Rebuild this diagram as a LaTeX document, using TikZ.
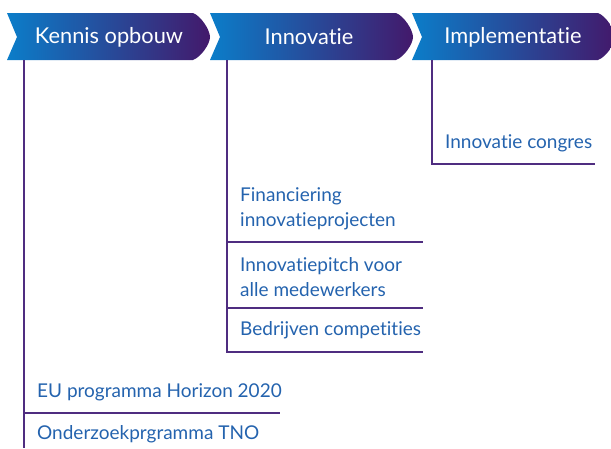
\documentclass[tikz,border=0pt]{standalone}
\usepackage{fontspec}
\setmainfont{Lato}[Ligatures={NoCommon}]
\usetikzlibrary{positioning}
\definecolor{phaseblue}{HTML}{0B7DC9}
\definecolor{phasepurple}{HTML}{43196B}
\definecolor{itemblue}{HTML}{2463AE}
\definecolor{stemline}{HTML}{4F2D80}

\tikzset{
  phase/.style={shade, left color=phaseblue, right color=phasepurple},
  phasetext/.style={text=white, inner sep=0pt, font=\fontsize{21.8}{26}\selectfont},
  item/.style={anchor=west, inner sep=0pt, align=left, text=itemblue,
    font=\fontsize{19}{25}\selectfont},
  stem/.style={draw=stemline, line width=1.3pt},
}

\begin{document}
\begin{tikzpicture}[x=1pt,y=-1pt]
  \useasboundingbox (0,0) rectangle (611,448);

  % the three phases
  \foreach \x in {7,210,412}{
    \path[phase] (\x,13) -- (\x+186,13)
      .. controls (\x+194,16) and (\x+203,30) .. (\x+203,37)
      .. controls (\x+203,44) and (\x+194,57) .. (\x+186,60)
      -- (\x,60) -- (\x+10,37) -- cycle;
  }
  \node [phasetext] (kennis) at (109,37) {Kennis opbouw};
  \node [phasetext] (innovatie) at (309,37) {Innovatie};
  \node [phasetext] (implementatie) at (513,37) {Implementatie};

  % items
  \node [item] (congres) at (445,143) {Innovatie congres};
  \node [item] (financiering) at (240,209) {Financiering\\innovatieprojecten};
  \node [item] (pitch) at (240,277) {Innovatiepitch voor\\alle medewerkers};
  \node [item] (competities) at (240,330) {Bedrijven competities};
  \node [item] (horizon) at (37,392) {EU programma Horizon 2020};
  \node [item] (tno) at (37,434) {Onderzoekprgramma TNO};

  % stems and rules
  \draw [stem] (24,60) -- (24,448);
  \draw [stem] (227,60) -- (227,352) -- (423,352);
  \draw [stem] (432,60) -- (432,164) -- (595,164);
  \draw [stem] (227,242) -- (423,242);
  \draw [stem] (227,308) -- (423,308);
  \draw [stem] (24,413) -- (280,413);
\end{tikzpicture}
\end{document}
